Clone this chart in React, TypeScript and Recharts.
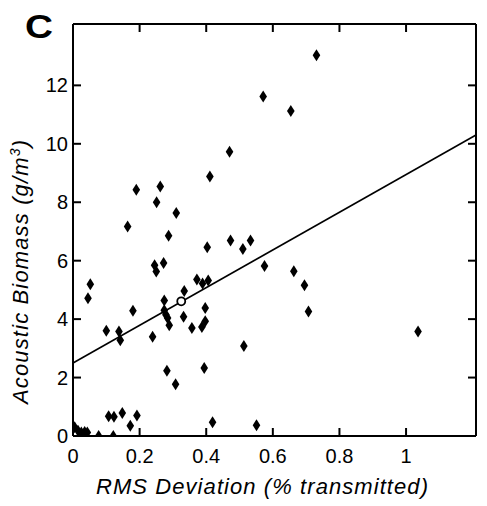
import React from 'react';
import { ScatterChart, Scatter, XAxis, YAxis, ReferenceLine } from 'recharts';

const rmsDeviation = [
  0.005, 0.015, 0.025, 0.035, 0.043, 0.077, 0.121, 0.107, 0.123, 0.148,
  0.172, 0.192, 0.419, 0.551, 0.045, 0.052, 0.100, 0.138, 0.142, 0.180,
  0.239, 0.245, 0.250, 0.272, 0.274, 0.274, 0.279, 0.284, 0.289, 0.282,
  0.308, 0.334, 0.332, 0.357, 0.372, 0.389, 0.406, 0.387, 0.397, 0.397,
  0.394, 0.513, 0.190, 0.262, 0.251, 0.164, 0.310, 0.287, 0.411, 0.470,
  0.403, 0.473, 0.510, 0.533, 0.575, 0.663, 0.695, 0.707, 1.036, 0.731,
  0.571, 0.654,
];
const acousticBiomass = [
  0.30, 0.18, 0.12, 0.14, 0.12, 0.0, 0.0, 0.68, 0.66, 0.79,
  0.35, 0.70, 0.47, 0.37, 4.71, 5.19, 3.60, 3.58, 3.28, 4.29,
  3.40, 5.84, 5.63, 5.92, 4.64, 4.30, 4.15, 4.04, 3.79, 2.23,
  1.77, 4.96, 4.08, 3.70, 5.36, 5.22, 5.32, 3.73, 3.93, 4.38,
  2.33, 3.08, 8.43, 8.54, 8.00, 7.17, 7.63, 6.85, 8.88, 9.73,
  6.46, 6.69, 6.40, 6.69, 5.82, 5.64, 5.16, 4.26, 3.58, 13.03,
  11.62, 11.12,
];
const meanX = [0.325];
const meanY = [4.61];
const fitX = [0, 1.21];
const fitY = [2.5, 10.3];
const xTicks = [0, 0.2, 0.4, 0.6, 0.8, 1];
const yTicks = [0, 2, 4, 6, 8, 10, 12];
const xDomain = [0, 1.21];
const yDomain = [0, 14.1];

const points = rmsDeviation.map((x, i) => ({ x, y: acousticBiomass[i] }));
const meanPoint = meanX.map((x, i) => ({ x, y: meanY[i] }));

const FONT = '"Liberation Sans", Arial, Helvetica, sans-serif';

const Diamond = (props: any) => {
  const { cx, cy } = props;
  if (cx == null || cy == null) return <g />;
  return (
    <path
      d={`M${cx},${cy - 6}L${cx + 3.8},${cy}L${cx},${cy + 6}L${cx - 3.8},${cy}Z`}
      fill="#000"
    />
  );
};

const Hollow = (props: any) => {
  const { cx, cy } = props;
  if (cx == null || cy == null) return <g />;
  return <circle cx={cx} cy={cy} r={4} fill="#fff" stroke="#000" strokeWidth={1.8} />;
};

const NoShape = () => <g />;
const NoTick = () => <g />;

const axisStroke = { stroke: '#000', strokeWidth: 2 };
const tickStyle = { fill: '#000', fontSize: 20, fontFamily: FONT };

export default function App() {
  return (
    <div style={{ position: 'absolute', left: 0, top: 0, width: 487, height: 506, background: '#fff' }}>
      <ScatterChart width={487} height={506} margin={{ top: 23, right: 10, bottom: 0, left: 0 }}>
        <XAxis
          xAxisId="b"
          type="number"
          dataKey="x"
          domain={xDomain}
          ticks={xTicks}
          allowDataOverflow
          height={70}
          tickSize={-8}
          tickMargin={21}
          axisLine={axisStroke}
          tickLine={axisStroke}
          tick={tickStyle}
          tickFormatter={(v: number) => String(v)}
        />
        <XAxis
          xAxisId="t"
          orientation="top"
          type="number"
          dataKey="x"
          domain={xDomain}
          ticks={xTicks}
          allowDataOverflow
          height={1}
          tickSize={-8}
          axisLine={axisStroke}
          tickLine={axisStroke}
          tick={<NoTick />}
        />
        <YAxis
          yAxisId="l"
          type="number"
          dataKey="y"
          domain={yDomain}
          ticks={yTicks}
          allowDataOverflow
          width={73}
          tickSize={-8}
          tickMargin={13}
          axisLine={axisStroke}
          tickLine={axisStroke}
          tick={tickStyle}
        />
        <YAxis
          yAxisId="r"
          orientation="right"
          type="number"
          dataKey="y"
          domain={yDomain}
          ticks={yTicks}
          allowDataOverflow
          width={1}
          tickSize={-8}
          axisLine={axisStroke}
          tickLine={axisStroke}
          tick={<NoTick />}
        />
        <Scatter
          xAxisId="t"
          yAxisId="r"
          data={points}
          shape={<NoShape />}
          isAnimationActive={false}
        />
        <ReferenceLine
          xAxisId="b"
          yAxisId="l"
          segment={[{ x: fitX[0], y: fitY[0] }, { x: fitX[1], y: fitY[1] }]}
          stroke="#000"
          strokeWidth={1.6}
          ifOverflow="visible"
        />
        <Scatter
          xAxisId="b"
          yAxisId="l"
          data={points}
          shape={<Diamond />}
          isAnimationActive={false}
        />
        <Scatter
          xAxisId="b"
          yAxisId="l"
          data={meanPoint}
          shape={<Hollow />}
          isAnimationActive={false}
        />
      </ScatterChart>
      <svg
        width={487}
        height={506}
        style={{ position: 'absolute', left: 0, top: 0, pointerEvents: 'none' }}
      >
        <text
          x={25}
          y={38}
          fontSize={34}
          fontWeight="bold"
          fontFamily={FONT}
          fill="#000"
          textLength={28}
          lengthAdjust="spacingAndGlyphs"
        >
          C
        </text>
        <text
          transform="translate(28,272) rotate(-90)"
          textAnchor="middle"
          fontSize={22}
          fontStyle="italic"
          fontFamily={FONT}
          fill="#000"
          textLength={264}
          lengthAdjust="spacing"
        >
          Acoustic Biomass (g/m
          <tspan dy={-8} fontSize={14}>3</tspan>
          <tspan dy={8}>)</tspan>
        </text>
        <text
          x={262}
          y={494}
          textAnchor="middle"
          fontSize={22}
          fontStyle="italic"
          fontFamily={FONT}
          fill="#000"
          textLength={332}
          lengthAdjust="spacing"
        >
          RMS Deviation (% transmitted)
        </text>
      </svg>
    </div>
  );
}
